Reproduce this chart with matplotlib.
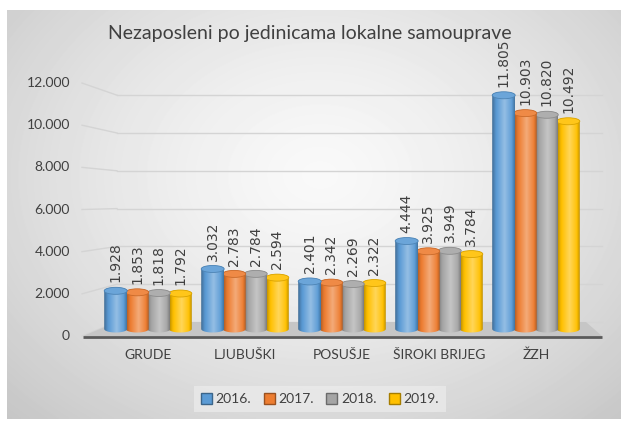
import numpy as np
import matplotlib
matplotlib.use("Agg")
import matplotlib.pyplot as plt
from matplotlib.patches import PathPatch, Ellipse, Polygon, Patch
from matplotlib.path import Path
from matplotlib.colors import to_rgb

# ==========================================
# DATA
# ==========================================
categories = ['GRUDE', 'LJUBUŠKI', 'POSUŠJE', 'ŠIROKI BRIJEG', 'ŽZH']
years = ['2016.', '2017.', '2018.', '2019.']
v2016 = [1928, 3032, 2401, 4444, 11805]
v2017 = [1853, 2783, 2342, 3925, 10903]
v2018 = [1818, 2784, 2269, 3949, 10820]
v2019 = [1792, 2594, 2322, 3784, 10492]
series = [v2016, v2017, v2018, v2019]
colors = ['#5B9BD5', '#ED7D31', '#A5A5A5', '#FFC000']
yticks = [0, 2000, 4000, 6000, 8000, 10000, 12000]

title = 'Nezaposleni po jedinicama lokalne samouprave'
TXT = '#404040'
FONT = 'Lato'

# ==========================================
# PIXEL <-> DATA (full figure axes, fake 3D)
# ==========================================
W_PX, H_PX = 621, 421
X0_PX, PX_PER_CAT = 148, 97       # centre of first group, group pitch
Y0_PX, PX_PER_UNIT = 329, 0.0198  # bar base, scale of the bars


def xd(px):
    return (px - X0_PX) / PX_PER_CAT


def yd(py):
    return (Y0_PX - py) / PX_PER_UNIT


def fmt(v):
    return f"{v:,}".replace(',', '.')


def shade(c, f):
    c = np.array(to_rgb(c))
    if f >= 0:
        return c + (1 - c) * f
    return c * (1 + f)


fig = plt.figure(figsize=(W_PX / 100, H_PX / 100), dpi=100)
fig.patch.set_facecolor('white')
ax = fig.add_axes([0, 0, 1, 1])
ax.set_axis_off()

# --- fond dégradé radial ---
gx, gy = np.meshgrid(np.arange(7, W_PX), np.arange(10, 419))
r = np.sqrt(((gx - 320) / 430) ** 2 + ((gy - 175) / 330) ** 2)
bg = np.clip(0.975 - 0.19 * r ** 1.4, 0, 1)
ax.imshow(bg, cmap='gray', vmin=0, vmax=1, aspect='auto', interpolation='bilinear',
          extent=[xd(7), xd(W_PX), yd(419), yd(10)], zorder=0)

# --- grille "3D" ---
for v in yticks:
    yb = yd(322 - v * 0.0189)
    yf = yd(336 - v * 0.02108)
    ax.plot([xd(117), xd(602)], [yb, yb], color='#d4d4d4', lw=1, zorder=1)
    ax.plot([xd(82), xd(117)], [yf, yb], color='#d4d4d4', lw=1, zorder=1)
    ax.text(xd(70), yf, fmt(v), ha='right', va='center', fontsize=10,
            family=FONT, color=TXT)

# --- plancher ---
floor = Polygon([(xd(83), yd(336)), (xd(602), yd(336)), (xd(586), yd(322)), (xd(117), yd(322))],
                closed=True, facecolor='#c6c6c6', edgecolor='none', zorder=2)
ax.add_patch(floor)
ax.plot([xd(83), xd(602)], [yd(336.5), yd(336.5)], color='#5a5a5a', lw=2,
        solid_capstyle='butt', zorder=2)

# --- barres cylindriques ---
x = np.arange(len(categories))
pitch, width = 0.222, 0.237
EH = 7 / PX_PER_UNIT  # hauteur de l'ellipse (data)
prof_t = np.linspace(0, 1, 64)
prof = np.interp(prof_t, [0, 0.15, 0.55, 0.85, 1], [-0.3, -0.05, 0.35, 0.05, -0.25])

for k, (vals, c) in enumerate(zip(series, colors)):
    bars = ax.bar(x + (k - 1.5) * pitch, vals, width, color=c, zorder=5)
    for rect, v in zip(bars, vals):
        rect.set_visible(False)
        x0, w, h = rect.get_x(), rect.get_width(), rect.get_height()
        cx = x0 + w / 2
        zo = 10 - k
        t1 = np.linspace(np.pi, 2 * np.pi, 30)
        t2 = np.linspace(0, np.pi, 30)
        verts = list(zip(cx + w / 2 * np.cos(t1), EH / 2 * np.sin(t1)))
        verts += list(zip(cx + w / 2 * np.cos(t2), h + EH / 2 * np.sin(t2)))
        verts.append(verts[0])
        codes = [Path.MOVETO] + [Path.LINETO] * (len(verts) - 2) + [Path.CLOSEPOLY]
        clip = PathPatch(Path(verts, codes), facecolor='none', edgecolor='none',
                         transform=ax.transData)
        ax.add_patch(clip)
        grad = np.array([[shade(c, f) for f in prof]])
        im = ax.imshow(grad, aspect='auto', interpolation='bilinear',
                       extent=[x0, x0 + w, -EH / 2, h + EH / 2], zorder=zo)
        im.set_clip_path(clip)
        ax.add_patch(Ellipse((cx, h), w, EH, facecolor=shade(c, 0.1),
                             edgecolor=shade(c, -0.15), lw=0.6, zorder=zo))
        ax.annotate(fmt(v), xy=(cx, h), xytext=(0, 6), textcoords='offset points',
                    rotation=90, ha='center', va='bottom', fontsize=10,
                    family='DejaVu Sans', color=TXT, zorder=12)

# --- étiquettes de catégories ---
for i, cat in enumerate(categories):
    ax.text(i, yd(355), cat, ha='center', va='center', fontsize=10,
            family=FONT, color=TXT)

ax.set_xlim(xd(0), xd(W_PX))
ax.set_ylim(yd(H_PX), yd(0))

# --- titre ---
fig.text(310 / W_PX, 1 - 33 / H_PX, title, ha='center', va='center',
         fontsize=14, family=FONT, color=TXT)

# --- légende ---
handles = [Patch(facecolor=c, edgecolor=shade(c, -0.35), lw=1) for c in colors]
leg = fig.legend(handles, years, loc='center', bbox_to_anchor=(320 / W_PX, 1 - 399 / H_PX),
                 ncol=4, frameon=True, fancybox=False, handlelength=0.8, handleheight=0.8,
                 handletextpad=0.25, columnspacing=0.9, borderpad=0.5,
                 prop={'family': FONT, 'size': 10})
leg.get_frame().set_facecolor('#ececec')
leg.get_frame().set_edgecolor('none')
leg.get_frame().set_alpha(0.7)
for t in leg.get_texts():
    t.set_color(TXT)

plt.savefig('out.png', dpi=100)
